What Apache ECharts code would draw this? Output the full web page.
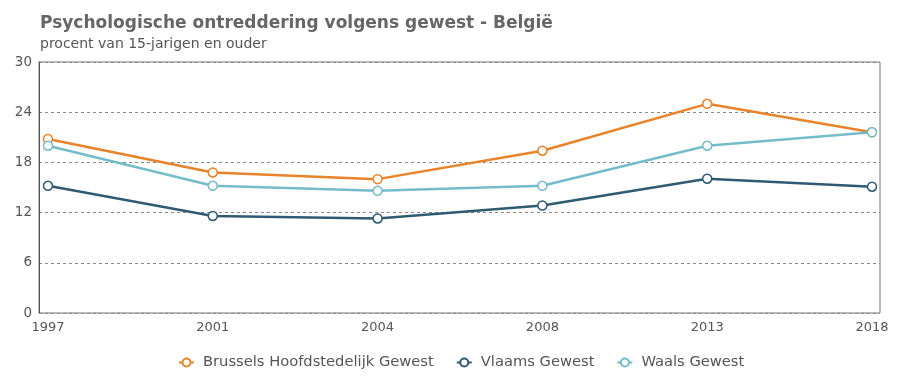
<!DOCTYPE html>
<html><head><meta charset="utf-8">
<script src="https://cdn.jsdelivr.net/npm/echarts@6/dist/echarts.min.js"></script>
<style>html,body{margin:0;padding:0;background:#fff}#c{width:907px;height:387px}</style>
</head><body><div id="c"></div>
<script>
const years = ['1997','2001','2004','2008','2013','2018'];
const brussels = [20.8, 16.8, 16.0, 19.4, 25.0, 21.6];
const vlaams = [15.2, 11.6, 11.3, 12.85, 16.05, 15.1];
const waals = [20.0, 15.2, 14.6, 15.2, 20.0, 21.6];
const yTicks = [0, 6, 12, 18, 24, 30];

const chart = echarts.init(document.getElementById('c'));
const font = 'DejaVu Sans, Verdana, sans-serif';
function s(name, data, color) {
  return {
    name, type: 'line', data, xAxisIndex: 1, yAxisIndex: 1,
    symbol: 'circle', symbolSize: 9, showSymbol: true,
    lineStyle: { color, width: 2.5 },
    itemStyle: { color: '#fff', borderColor: color, borderWidth: 1.5 },
    emphasis: { disabled: true }
  };
}
chart.setOption({
  animation: false,
  title: {
    text: 'Psychologische ontreddering volgens gewest - België',
    subtext: 'procent van 15-jarigen en ouder',
    left: 35, top: 10,
    textStyle: { fontFamily: font, fontSize: 17, fontWeight: 'bold', color: '#666' },
    subtextStyle: { fontFamily: font, fontSize: 14, color: '#555' },
    itemGap: 5
  },
  legend: {
    bottom: 12, left: 173, itemGap: 22, itemWidth: 15, itemHeight: 10,
    textStyle: { fontFamily: font, fontSize: 14.7, color: '#555', padding: [0, 0, 0, 4] }
  },
  grid: [
    { left: 39, right: 27, top: 62, bottom: 74, show: true, borderColor: '#777', borderWidth: 1 },
    { left: 48, right: 35, top: 62, bottom: 74 }
  ],
  xAxis: [
    { gridIndex: 0, type: 'category', data: years, show: false },
    { gridIndex: 1, type: 'category', data: years, boundaryGap: false,
      axisLine: { show: false }, axisTick: { show: false },
      axisLabel: { fontFamily: font, fontSize: 13, color: '#555', margin: 8 } }
  ],
  yAxis: [
    { gridIndex: 0, type: 'value', min: 0, max: 30, interval: 6,
      axisLine: { show: true, lineStyle: { color: '#555' } }, axisTick: { show: false },
      axisLabel: { fontFamily: font, fontSize: 13.5, color: '#555', margin: 7 },
      splitLine: { show: true, lineStyle: { color: '#888', type: [3, 3] } } },
    { gridIndex: 1, type: 'value', min: 0, max: 30, interval: 6, show: false, splitLine: { show: false } }
  ],
  series: [
    s('Brussels Hoofdstedelijk Gewest', brussels, '#E8832A'),
    s('Vlaams Gewest', vlaams, '#2F5A73'),
    s('Waals Gewest', waals, '#75BCCB')
  ]
});
</script></body></html>
